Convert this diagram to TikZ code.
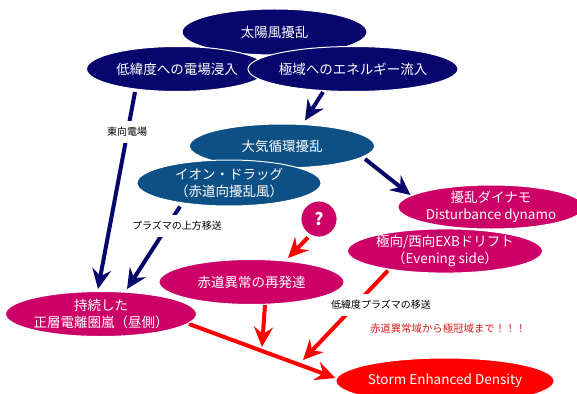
\documentclass[tikz,border=0pt]{standalone}
\usepackage{fontspec}
\setmainfont{Noto Sans CJK JP}
\usetikzlibrary{shapes.geometric,arrows.meta}
\definecolor{navyc}{RGB}{6,6,108}
\definecolor{steelc}{RGB}{13,80,134}
\definecolor{magc}{RGB}{204,0,102}
\definecolor{redc}{RGB}{255,0,0}
\definecolor{notec}{RGB}{210,30,30}
\pgfdeclarelayer{bg}
\pgfsetlayers{bg,main}
\tikzset{
  bub/.style={ellipse, draw=white, line width=1pt, text=white, inner sep=0pt,
    minimum width=185pt, minimum height=45pt, align=center,
    font=\fontsize{13.5}{16.5}\selectfont},
  navybub/.style={bub, fill=navyc},
  steelbub/.style={bub, fill=steelc},
  magbub/.style={bub, fill=magc},
  redbub/.style={bub, fill=redc},
  lab/.style={fill=white, inner xsep=1pt, inner ysep=6pt, font=\fontsize{10}{12}\selectfont},
  tipn/.style={-{Stealth[length=20pt,width=19pt,inset=7pt]}, line width=4pt, draw=navyc},
  tipr/.style={-{Stealth[length=20pt,width=19pt,inset=7pt]}, line width=4pt, draw=redc},
  plainr/.style={line width=4pt, draw=redc},
}
\begin{document}
\begin{tikzpicture}[x=1pt,y=-1pt]
\useasboundingbox (0,0) rectangle (577,393);
% nodes
\node[navybub, minimum height=46pt] (sun) at (274.5,32) {太陽風擾乱};
\node[navybub, minimum width=181pt] (low) at (177,69) {低緯度への電場浸入};
\node[navybub, minimum width=186pt] (polar) at (353,69) {極域へのエネルギー流入};
\node[steelbub, minimum height=44pt] (atm) at (282,146) {大気循環擾乱};
\node[steelbub, minimum width=184pt, minimum height=46pt] (ion) at (229,183) {イオン・ドラッグ\\（赤道向擾乱風）};
\node[magbub, minimum width=186pt, minimum height=44pt] (dyn) at (491,207) {擾乱ダイナモ\\Disturbance dynamo};
\node[magbub, minimum width=184pt, minimum height=44pt] (exb) at (445,251) {極向/西向EXBドリフト\\（Evening side）};
\node[circle, fill=magc, draw=white, line width=0.8pt, minimum size=36pt, inner sep=0pt, text=white,
  font=\fontsize{17}{17}\selectfont\bfseries] (q) at (319,219) {?};
\node[magbub] (rise) at (251.5,282) {赤道異常の再発達};
\node[magbub] (persist) at (101,314) {持続した\\正層電離圏嵐（昼側）};
\node[redbub, minimum height=46pt] (sed) at (445,381) {Storm Enhanced Density};
% labels
\node[lab] (l1) at (127,132) {東向電場};
\node[lab] (l2) at (177,226) {プラズマの上方移送};
\node[lab] (l3) at (381,305) {低緯度プラズマの移送};
\node[font=\fontsize{10.4}{12}\selectfont, text=notec] (note) at (448,329) {赤道異常域から極冠域まで！！！};
% junction points on the red line
\coordinate (j1) at (262,347);
\coordinate (j2) at (303,360);
% connectors
\begin{pgfonlayer}{bg}
\draw[tipn] ([xshift=-42pt]low.south) -- ([xshift=-3pt,yshift=2pt]persist.north);
\draw[tipn] ([xshift=-30pt]polar.south) -- ([xshift=23pt,yshift=3pt]atm.north);
\draw[tipn] ([xshift=-10pt,yshift=-13pt]atm.east) -- ([xshift=13pt,yshift=12pt]dyn.west);
\draw[tipn] ([xshift=-49pt]ion.south) -- ([xshift=26pt,yshift=2pt]persist.north);
\draw[tipr] ([xshift=-11pt]q.south) -- ([xshift=36.5pt,yshift=1pt]rise.north);
\draw[plainr, -{Stealth[length=20pt,width=19pt,inset=7pt]}] ([xshift=-8pt,yshift=-10pt]persist.east) -- ([yshift=3pt]sed.west);
\draw[tipr] ([xshift=13.5pt]rise.south) -- (j1);
\draw[tipr] ([xshift=-57pt,yshift=3pt]exb.south) -- (j2);
\end{pgfonlayer}
\end{tikzpicture}
\end{document}
